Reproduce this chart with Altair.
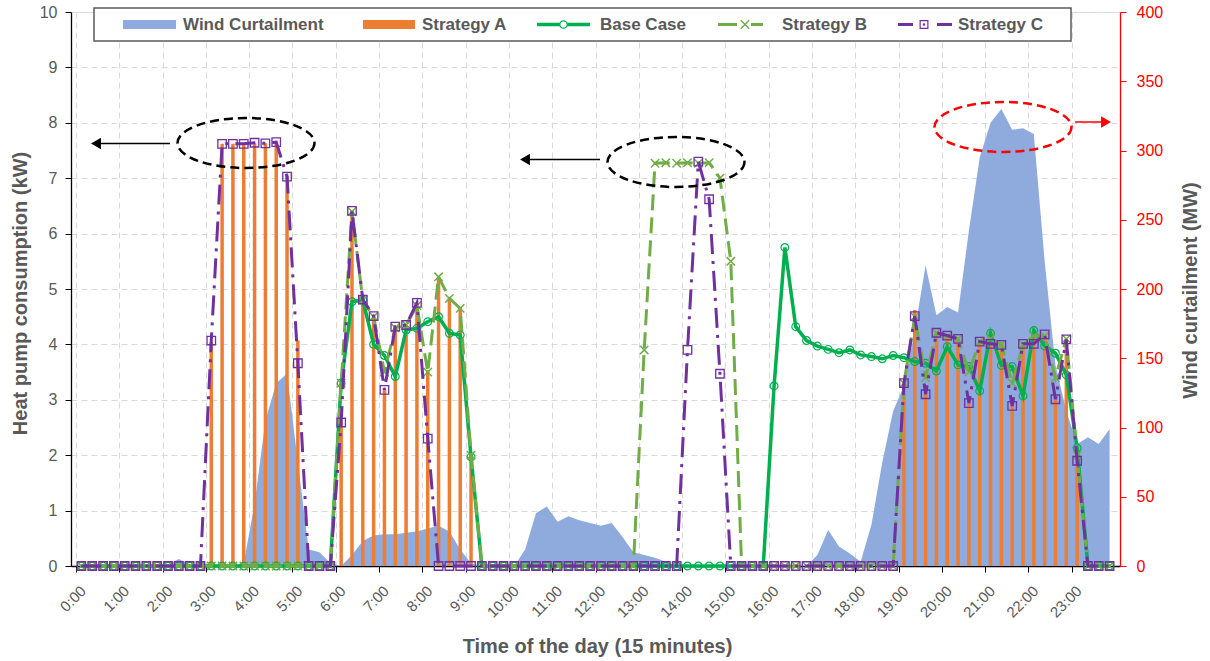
import altair as alt
import pandas as pd

# ---------------- data ----------------
hour_labels = ["0:00", "1:00", "2:00", "3:00", "4:00", "5:00", "6:00", "7:00",
               "8:00", "9:00", "10:00", "11:00", "12:00", "13:00", "14:00", "15:00",
               "16:00", "17:00", "18:00", "19:00", "20:00", "21:00", "22:00", "23:00"]

legend_labels = ["Wind Curtailment", "Strategy A", "Base Case", "Strategy B", "Strategy C"]

# wind curtailment (MW), 96 quarter-hours
wind_mw = [0, 0, 0, 0, 0, 0, 0, 0, 1, 5, 1, 0,
           0, 0, 0, 2, 45, 105, 132, 139, 75, 12, 10, 2,
           0, 8, 18, 22, 23, 23, 24, 25, 27, 29, 25, 12,
           2, 0, 0, 0, 0, 12, 38, 43, 32, 36, 33, 31,
           29, 31, 21, 10, 8, 6, 3, 0, 0, 0, 0, 0,
           0, 0, 0, 0, 0, 0, 0, 0, 8, 26, 14, 9,
           3, 30, 75, 112, 130, 170, 217, 181, 187, 183, 242, 295,
           320, 330, 315, 316, 312, 220, 145, 112, 88, 93, 88, 99]

# heat pump consumption (kW)
strategy_a = [0, 0, 0, 0, 0, 0, 0, 0, 0, 0, 0, 0,
              4.05, 7.62, 7.62, 7.62, 7.63, 7.63, 7.64, 7.05, 4.07, 0, 0, 0,
              2.6, 6.41, 4.83, 4.5, 3.18, 4.32, 4.35, 4.74, 3.54, 5.22, 4.83, 4.65,
              2.0, 0, 0, 0, 0, 0, 0, 0, 0, 0, 0, 0,
              0, 0, 0, 0, 0, 0, 0, 0, 0, 0, 0, 0,
              0, 0, 0, 0, 0, 0, 0, 0, 0, 0, 0, 0,
              0, 0, 0, 0, 3.3, 4.62, 3.1, 4.2, 4.15, 4.1, 2.94, 4.05,
              4.25, 4.0, 2.9, 4.0, 4.27, 4.18, 3.0, 4.1, 1.95, 0, 0, 0]

base_case = [0, 0, 0, 0, 0, 0, 0, 0, 0, 0, 0, 0,
             0, 0, 0, 0, 0, 0, 0, 0, 0, 0, 0, 0,
             3.3, 4.77, 4.8, 4.0, 3.8, 3.42, 4.26, 4.29, 4.41, 4.5, 4.2, 4.17,
             1.97, 0, 0, 0, 0, 0, 0, 0, 0, 0, 0, 0,
             0, 0, 0, 0, 0, 0, 0, 0, 0, 0, 0, 0,
             0, 0, 0, 0, 3.25, 5.75, 4.32, 4.07, 3.97, 3.91, 3.85, 3.9,
             3.81, 3.78, 3.74, 3.8, 3.76, 3.69, 3.66, 3.52, 3.96, 3.63, 3.6, 3.16,
             4.2, 3.62, 3.6, 3.07, 4.25, 3.97, 3.84, 3.45, 2.13, 0, 0, 0]

strategy_b = [0, 0, 0, 0, 0, 0, 0, 0, 0, 0, 0, 0,
              0, 0, 0, 0, 0, 0, 0, 0, 0, 0, 0, 0,
              3.3, 6.4, 4.8, 4.5, 3.5, 4.3, 4.35, 4.7, 3.5, 5.22, 4.83, 4.65,
              2.0, 0, 0, 0, 0, 0, 0, 0, 0, 0, 0, 0,
              0, 0, 0, 0, 3.9, 7.27, 7.28, 7.27, 7.28, 7.27, 7.28, 7.0,
              5.5, 0, 0, 0, 0, 0, 0, 0, 0, 0, 0, 0,
              0, 0, 0, 0, 3.3, 4.5, 3.4, 4.2, 4.15, 4.1, 3.5, 4.05,
              4.1, 4.0, 3.3, 4.0, 4.15, 4.15, 3.4, 4.1, 2.0, 0, 0, 0]

strategy_c = [0, 0, 0, 0, 0, 0, 0, 0, 0, 0, 0, 0,
              4.07, 7.62, 7.62, 7.62, 7.64, 7.63, 7.65, 7.03, 3.66, 0, 0, 0,
              2.59, 6.41, 4.81, 4.51, 3.18, 4.32, 4.35, 4.75, 2.3, 0, 0, 0,
              0, 0, 0, 0, 0, 0, 0, 0, 0, 0, 0, 0,
              0, 0, 0, 0, 0, 0, 0, 0, 3.9, 7.3, 6.62, 3.47,
              0, 0, 0, 0, 0, 0, 0, 0, 0, 0, 0, 0,
              0, 0, 0, 0, 3.3, 4.51, 3.1, 4.21, 4.16, 4.1, 2.94, 4.05,
              4.01, 3.99, 2.89, 4.01, 4.01, 4.18, 3.01, 4.09, 1.9, 0, 0, 0]

slots = list(range(96))
df = pd.DataFrame({
    "slot": [s + 0.5 for s in slots],
    "wind": wind_mw,
    "A": strategy_a,
    "Base": base_case,
    "B": strategy_b,
    "C": strategy_c,
})

# ---------------- styling ----------------
FONT = "Liberation Sans"
GRAY = "#595959"
BLUE = "#8FAADC"
ORANGE = "#ED7D31"
GREEN = "#00B050"
LGREEN = "#70AD47"
PURPLE = "#7030A0"
RED = "#FF0000"
CROSS = "M-1,-1L1,1M-1,1L1,-1"
ELLIPSE = ("M1,0C1,0.2016 0.5523,0.365 0,0.365C-0.5523,0.365 -1,0.2016 -1,0"
           "C-1,-0.2016 -0.5523,-0.365 0,-0.365C0.5523,-0.365 1,-0.2016 1,0Z")

label_expr = "[" + ",".join("'" + h + "'" for h in hour_labels) + "][round(datum.value / 4)]"

x_axis = alt.Axis(values=list(range(0, 96, 4)), labelExpr=label_expr, labelAngle=315,
                  labelOffset=2, labelPadding=11, labelFontSize=15, labelColor=GRAY,
                  labelFlush=False, labelOverlap=False, labelFont=FONT,
                  tickSize=6, tickColor="black", domainColor="black", domainWidth=1.3,
                  grid=True, gridDash=[6, 4], gridColor="#D9D9D9", gridWidth=1,
                  title="Time of the day (15 minutes)", titleFont=FONT, titleFontSize=20,
                  titleFontWeight="bold", titleColor=GRAY, titleX=526, titleY=80,
                  titleAlign="center", titleBaseline="middle")
x_enc = alt.X("slot:Q", scale=alt.Scale(domain=[0, 96], nice=False, zero=False), axis=x_axis)

left_axis = alt.Axis(orient="left", values=list(range(0, 11)), labelFontSize=16, labelColor=GRAY,
                     labelFont=FONT, tickSize=6, tickColor="black", domainColor="black",
                     domainWidth=1.3, labelPadding=8, grid=True, gridDash=[6, 4],
                     gridColor="#D9D9D9", gridWidth=1,
                     title="Heat pump consumption (kW)", titleFont=FONT, titleFontSize=20,
                     titleFontWeight="bold", titleColor=GRAY, titleAngle=270, titleX=-51,
                     titleY=281, titleAlign="center", titleBaseline="middle")
left_scale = alt.Scale(domain=[0, 10], nice=False)

right_axis = alt.Axis(orient="right", values=list(range(0, 401, 50)), labelFontSize=16,
                      labelColor=RED, labelFont=FONT, tickSize=6, tickColor=RED,
                      domainColor=RED, domainWidth=1.3, labelPadding=10, grid=False,
                      title="Wind curtailment  (MW)", titleFont=FONT, titleFontSize=20,
                      titleFontWeight="bold", titleColor=GRAY, titleAngle=270, titleX=70,
                      titleY=278, titleAlign="center", titleBaseline="middle")


def ly(field):
    return alt.Y(field + ":Q", scale=left_scale, axis=left_axis)


base = alt.Chart(df)

wind_layer = base.mark_area(color=BLUE, opacity=1, interpolate="linear").encode(
    x=x_enc,
    y=alt.Y("wind:Q", scale=alt.Scale(domain=[0, 400], nice=False), axis=right_axis),
)

bars = base.transform_filter("datum.A > 0").mark_bar(size=3.5, color=ORANGE).encode(
    x=x_enc, y=ly("A"))

base_line = base.mark_line(color=GREEN, strokeWidth=3.5).encode(x=x_enc, y=ly("Base"))
base_pts = base.mark_point(shape="circle", filled=False, size=60, color=GREEN,
                           strokeWidth=1.2, opacity=1).encode(x=x_enc, y=ly("Base"))
b_line = base.mark_line(color=LGREEN, strokeWidth=3, strokeDash=[16, 7]).encode(
    x=x_enc, y=ly("B"))
b_pts = base.mark_point(shape=CROSS, filled=False, size=70, color=LGREEN,
                        strokeWidth=1.5, opacity=1).encode(x=x_enc, y=ly("B"))
c_line = base.mark_line(color=PURPLE, strokeWidth=3, strokeDash=[20, 7, 3, 7]).encode(
    x=x_enc, y=ly("C"))
c_pts = base.mark_point(shape="square", filled=False, size=72, color=PURPLE,
                        strokeWidth=1.3, opacity=1).encode(x=x_enc, y=ly("C"))

# ---------------- annotations (pixel placement) ----------------
one = alt.Chart(pd.DataFrame({"k": [0]}))


def ellipse(cx, cy, col):
    return one.mark_point(shape=ELLIPSE, filled=False, size=137 * 137, stroke=col,
                          strokeWidth=2.5, strokeDash=[9, 5], opacity=1).encode(
        x=alt.value(cx), y=alt.value(cy))


def arrow(x1, x2, yy, tipx, shape, col):
    line = one.mark_rule(color=col, strokeWidth=1.5).encode(
        x=alt.value(x1), x2=alt.value(x2), y=alt.value(yy))
    head = one.mark_point(shape=shape, filled=True, size=130, color=col, opacity=1).encode(
        x=alt.value(tipx), y=alt.value(yy))
    return [line, head]


annots = [ellipse(175, 131, "black"), ellipse(605, 150, "black"), ellipse(932, 115, RED)]
annots += arrow(99, 24, 131.5, 25, "triangle-left", "black")
annots += arrow(529, 458, 147.5, 454, "triangle-left", "black")
annots += arrow(1004, 1034, 110, 1035, "triangle-right", RED)

# ---------------- legend (drawn box) ----------------
legend_box = one.mark_rect(fill="white", stroke=GRAY, strokeWidth=1.5).encode(
    x=alt.value(23), x2=alt.value(1000), y=alt.value(-4), y2=alt.value(29))


def legend_text(label, px):
    return one.mark_text(align="left", baseline="middle", font=FONT, fontSize=17,
                         fontWeight="bold", color=GRAY).encode(
        x=alt.value(px), y=alt.value(12.5), text=alt.value(label))


LY = 12.5
leg = [legend_box,
       one.mark_rect(color=BLUE).encode(x=alt.value(52), x2=alt.value(105),
                                        y=alt.value(8), y2=alt.value(17)),
       legend_text(legend_labels[0], 112),
       one.mark_rect(color=ORANGE).encode(x=alt.value(292), x2=alt.value(344),
                                          y=alt.value(8), y2=alt.value(17)),
       legend_text(legend_labels[1], 351),
       one.mark_rule(color=GREEN, strokeWidth=3.5).encode(x=alt.value(466), x2=alt.value(519),
                                                          y=alt.value(LY)),
       one.mark_point(shape="circle", filled=True, fill="white", stroke=GREEN, size=55,
                      strokeWidth=1.2, opacity=1).encode(x=alt.value(492.5), y=alt.value(LY)),
       legend_text(legend_labels[2], 529),
       one.mark_rule(color=LGREEN, strokeWidth=3, strokeDash=[19, 14]).encode(
           x=alt.value(647), x2=alt.value(692), y=alt.value(LY)),
       one.mark_point(shape=CROSS, filled=False, size=70, color=LGREEN, strokeWidth=1.5,
                      opacity=1).encode(x=alt.value(674), y=alt.value(LY)),
       legend_text(legend_labels[3], 711),
       one.mark_rule(color=PURPLE, strokeWidth=3, strokeDash=[15, 24]).encode(
           x=alt.value(827), x2=alt.value(882), y=alt.value(LY)),
       one.mark_point(shape="square", filled=False, size=60, color=PURPLE, strokeWidth=1.2,
                      opacity=1).encode(x=alt.value(853), y=alt.value(LY)),
       one.mark_point(shape="square", filled=True, size=5, color=PURPLE, opacity=1).encode(
           x=alt.value(853), y=alt.value(LY)),
       legend_text(legend_labels[4], 887),
       ]

inner = alt.layer(bars, base_line, base_pts, b_line, b_pts, c_line, c_pts, *annots, *leg)

chart = alt.layer(wind_layer, inner).resolve_scale(y="independent").properties(
    width=1049, height=554,
    padding={"left": 71, "top": 12, "right": 90, "bottom": 95},
    autosize=alt.AutoSizeParams(type="none"),
    background="white",
).configure_view(stroke=None).configure(font=FONT)

chart.save("out.html", embed_options={"renderer": "svg", "actions": False})
